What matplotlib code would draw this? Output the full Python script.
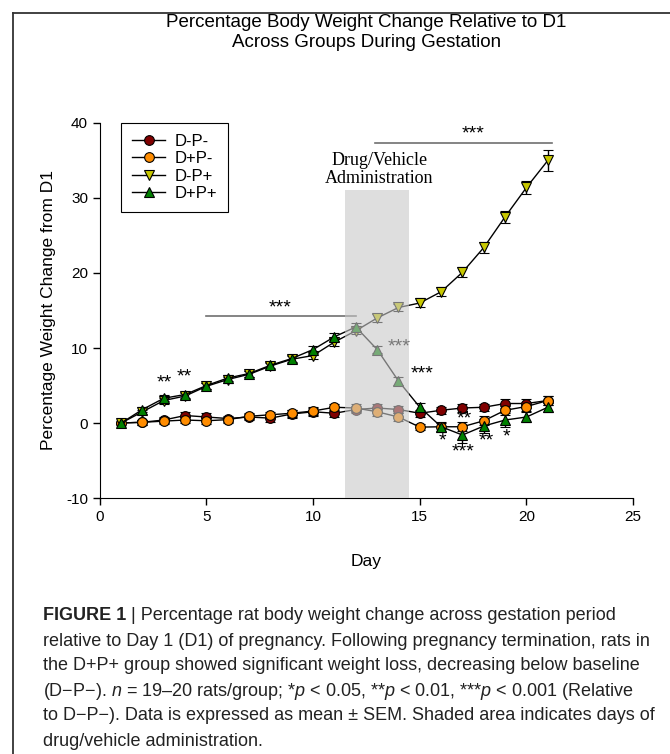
import numpy as np
import matplotlib.pyplot as plt
from matplotlib.lines import Line2D

plt.rcParams['font.family'] = ['Liberation Sans', 'DejaVu Sans']
plt.rcParams['axes.unicode_minus'] = False

# days of gestation
days = np.arange(1, 22)

# percentage weight change from D1, mean and SEM
dpm = [0, 0.1, 0.4, 1.0, 0.8, 0.6, 0.8, 0.65, 1.2, 1.5, 1.3, 1.8, 2.0, 1.8,
       1.3, 1.7, 2.0, 2.1, 2.6, 2.6, 3.0]
dpm_err = [0, 0.3, 0.4, 0.5, 0.5, 0.4, 0.4, 0.5, 0.5, 0.5, 0.5, 0.5, 0.5, 0.5,
           0.5, 0.5, 0.5, 0.5, 0.6, 0.6, 0.6]

ppm = [0, 0.1, 0.25, 0.4, 0.3, 0.45, 0.9, 1.1, 1.3, 1.6, 2.1, 2.0, 1.5, 0.8,
       -0.55, -0.5, -0.5, 0.3, 1.7, 2.2, 3.0]
ppm_err = [0, 0.3, 0.4, 0.4, 0.4, 0.4, 0.4, 0.4, 0.5, 0.5, 0.5, 0.5, 0.5, 0.5,
           0.4, 0.5, 0.6, 0.6, 0.6, 0.6, 0.6]

dmp = [0, 1.5, 3.0, 3.6, 4.9, 5.8, 6.5, 7.6, 8.5, 9.0, 10.8, 12.3, 14.0, 15.4,
       16.0, 17.5, 20.1, 23.4, 27.5, 31.4, 35.0]
dmp_err = [0, 0.3, 0.4, 0.4, 0.4, 0.4, 0.4, 0.4, 0.5, 0.5, 0.5, 0.5, 0.5, 0.5,
           0.6, 0.6, 0.7, 0.7, 0.8, 0.9, 1.4]

dpp = [0, 1.8, 3.3, 3.8, 5.0, 6.0, 6.6, 7.7, 8.6, 9.8, 11.5, 12.8, 9.8, 5.6,
       2.1, -0.5, -1.6, -0.4, 0.4, 0.8, 2.1]
dpp_err = [0, 0.3, 0.4, 0.4, 0.4, 0.4, 0.4, 0.4, 0.5, 0.5, 0.5, 0.5, 0.5, 0.5,
           0.6, 0.7, 1.0, 0.9, 0.9, 0.7, 0.6]

groups = ['D-P-', 'D+P-', 'D-P+', 'D+P+']
colors = ['#800000', '#ff8c00', '#c8c800', '#008000']
markers = ['o', 'o', 'v', '^']

# significance marks: (day, value, text)
stars = [(3.0, 5.3, '**'), (3.95, 6.2, '**'), (15.1, 6.5, '***'),
         (16.05, -2.4, '*'), (17.1, 0.6, '**'), (17.05, -3.8, '***'),
         (18.1, -2.4, '**'), (19.05, -1.8, '*')]

fig = plt.figure(figsize=(6.7, 7.54), dpi=100)
ax = fig.add_axes([0.149, 0.3395, 0.796, 0.4974])

data = [(dpm, dpm_err), (ppm, ppm_err), (dmp, dmp_err), (dpp, dpp_err)]
for (y, err), c, m in zip(data, colors, markers):
    ax.errorbar(days, y, yerr=err, color='black', lw=1, marker=m, ms=7,
                mfc=c, mec='black', mew=0.8, capsize=3.5, elinewidth=1,
                capthick=1, zorder=3)

# shaded drug/vehicle period, drawn over the data
ax.fill_between([11.5, 14.5], -10, 31.1, color='#c8c8c8', alpha=0.6,
                lw=0, zorder=6)
ax.text(13.1, 33.8, 'Drug/Vehicle\nAdministration', family='Liberation Serif',
        fontsize=13, ha='center', va='center', linespacing=1.15, zorder=7)

# significance bars
ax.plot([5, 12], [14.2, 14.2], color='#707070', lw=1.2, zorder=4)
ax.text(8.45, 15.4, '***', fontsize=14, ha='center', va='center')
ax.plot([12.9, 21.2], [37.3, 37.3], color='#707070', lw=1.2, zorder=4)
ax.text(17.5, 38.6, '***', fontsize=14, ha='center', va='center')
ax.text(14.05, 10.2, '***', fontsize=14, ha='center', va='center', zorder=5)
for x, y, s in stars:
    ax.text(x, y, s, fontsize=14, ha='center', va='center', zorder=5)

ax.set_xlim(0, 25)
ax.set_ylim(-10, 40)
ax.set_xticks(range(0, 26, 5))
ax.set_yticks(range(-10, 41, 10))
ax.tick_params(labelsize=11, direction='out', length=5, width=1)
for side in ['top', 'right']:
    ax.spines[side].set_visible(False)
ax.set_xlabel('Day', fontsize=12.5, labelpad=22)
ax.set_ylabel('Percentage Weight Change from D1', fontsize=12.5, labelpad=7)
ax.set_title('Percentage Body Weight Change Relative to D1\nAcross Groups During Gestation',
             fontsize=13.5, pad=55, linespacing=1.2)

handles = [Line2D([], [], color='black', lw=1, marker=m, ms=7, mfc=c,
                  mec='black', mew=0.8) for c, m in zip(colors, markers)]
leg = ax.legend(handles, groups, loc='upper left', bbox_to_anchor=(0.04, 1.0),
                fontsize=12, fancybox=False, edgecolor='black', framealpha=1,
                handlelength=2.0, handletextpad=0.55, borderpad=0.65,
                labelspacing=0.15, borderaxespad=0)
leg.get_frame().set_linewidth(0.8)

# outer frame
fig.add_artist(Line2D([13 / 670, 13 / 670], [0, 1 - 13 / 754], color='#333333', lw=1.3))
fig.add_artist(Line2D([13 / 670, 1], [1 - 13 / 754, 1 - 13 / 754], color='#333333', lw=1.3))

# caption
cap_font = ['Liberation Sans']
plt.rcParams['mathtext.fontset'] = 'custom'
plt.rcParams['mathtext.rm'] = 'Liberation Sans'
plt.rcParams['mathtext.it'] = 'Liberation Sans:italic'
lines = [
    'Percentage rat body weight change across gestation period',
    'relative to Day 1 (D1) of pregnancy. Following pregnancy termination, rats in',
    'the D+P+ group showed significant weight loss, decreasing below baseline',
    '(D\u2212P\u2212). $n$ = 19\u201320 rats/group; *$p$ < 0.05, **$p$ < 0.01, ***$p$ < 0.001 (Relative',
    'to D\u2212P\u2212). Data is expressed as mean \u00b1 SEM. Shaded area indicates days of',
    'drug/vehicle administration.',
]
x0 = 43 / 670
fs = 13
bold = fig.text(x0, 1 - 616 / 754, 'FIGURE 1 ', family=cap_font, weight='bold',
                fontsize=fs, va='center', color='#222222')
fig.canvas.draw()
r = fig.canvas.get_renderer()
bw = bold.get_window_extent(r).width / 670
fig.text(x0 + bw, 1 - 616 / 754, '| ' + lines[0], family=cap_font, fontsize=fs,
         va='center', color='#222222')
for i, t in enumerate(lines[1:]):
    fig.text(x0, 1 - (616 + 25 * (i + 1)) / 754, t, family=cap_font, fontsize=fs,
             va='center', color='#222222')

fig.savefig('out.png', dpi=100)
